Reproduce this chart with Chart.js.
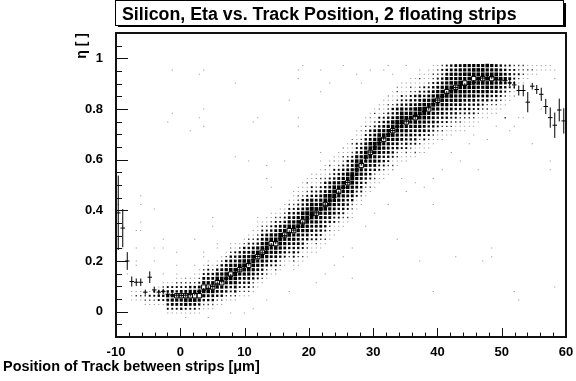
<!DOCTYPE html>
<html>
<head>
<meta charset="utf-8">
<script src="https://cdn.jsdelivr.net/npm/chart.js@4.4.1/dist/chart.umd.min.js"></script>
<style>
  html, body { margin: 0; padding: 0; background: #fff; }
  #wrap { width: 576px; height: 381px; position: relative; }
</style>
</head>
<body>
<div id="wrap"><canvas id="c"></canvas></div>
<script>
// Histogram binning: track position (x) versus eta (y)
const xAxisMin = -10, xAxisMax = 60, xBins = 100;
const yAxisMin = -0.1, yAxisMax = 1.1, yBins = 70;

const xTickValues = [-10, 0, 10, 20, 30, 40, 50, 60];
const xTickLabels = ['-10', '0', '10', '20', '30', '40', '50', '60'];
const yTickValues = [0, 0.2, 0.4, 0.6, 0.8, 1];
const yTickLabels = ['0', '0.2', '0.4', '0.6', '0.8', '1'];

const titleText = 'Silicon, Eta vs. Track Position, 2 floating strips';
const xTitleText = 'Position of Track between strips [\u03bcm]';
const yTitleText = '\u03b7 [ ]';

// Column profiles of the band (cell contents, bottom to top)
const C1 = '123456797654321', C2 = '122456788653211', C3 = '113456697643211';
const D1 = '1123445669765432111', D2 = '1123455668765432211', D3 = '1213445679775442111',
      D4 = '1122456678865532121', D5 = '1113355678876433111';

// First filled eta row of each position column
const bandStart = [
  0, 0, 0, 8, 8, 8, 7, 7, 7, 7,
  7, 5, 5, 5, 5, 5, 5, 5, 5, 6,
  6, 6, 7, 7, 8, 8, 8, 9, 9, 9,
  10, 11, 12, 13, 14, 14, 15, 16, 17, 15,
  16, 17, 18, 19, 19, 20, 21, 22, 23, 24,
  25, 26, 27, 29, 30, 32, 33, 34, 35, 36,
  37, 38, 39, 40, 40, 41, 41, 42, 42, 43,
  44, 45, 45, 46, 46, 47, 47, 47, 48, 48,
  49, 50, 50, 51, 51, 52, 53, 54, 55, 57,
  58, 59, 60, 60, 61, 61, 61, 61, 0, 0
];

// Cell contents per column, one digit per eta row starting at bandStart
const bandCells = [
  '', '', '', '111', '121', '121', '1221', '1231', '12331', '13431',
  '134421', '13456431', '13566531', '135694321', '145695321', '136795321', '135796421', '1357964211', '12469753211', '12467965321',
  '124579654321', '12457965421', '12456976421', '124569765421', '124568765421', '1234679765421', '1245678765431', '1234569765421', '12345678765421', C1,
  C2, C3, C1, C2, C3, C1, C2, C3, C1, D1,
  D2, D3, D4, D5, D1, D2, D3, D4, D5, D1,
  D2, D3, D4, D5, D1, D2, D3, D4, D5, D1,
  D2, D3, D4, D5, D1, D2, D3, D4, D5, D1,
  D2, '112344566976543221', '112234556787654332', '11234456679766543', '11223455678776654',
  '1123445667976655', '1122345667787665', '1112344567796766', '112344566787766', '112334566779776',
  '11234456678776', '1123456679776', '1122456778767', '112345679766', '112345668765',
  '11234567654', '1123456543', '112345433', '11233332', '112322',
  '11222', '1121', '121', '111', '11', '11', '11', '1', '', ''
];

// Isolated entries away from the band: [column, row, content]
const strayCells = [
  [0,22,1],[0,30,1],[1,20,1],[1,25,1],[2,14,1],[2,17,1],
  [4,16,1],[4,17,1],[4,20,1],[4,24,1],[5,24,1],[5,26,1],[5,30,1],[5,32,1],
  [8,17,1],[8,20,1],[8,29,1],[10,14,1],[10,20,1],[10,22,1],
  [13,14,1],[13,16,1],[13,19,1],[15,4,1],[15,13,1],[17,16,1],[17,22,1],
  [19,18,1],[19,19,1],[21,25,1],[21,27,1],[22,20,1],[22,21,1],[24,17,1],
  [25,16,1],[25,17,1],[25,19,1],[25,20,1],[25,21,1],[26,21,1],[28,5,1],
  [30,6,1],[31,26,1],[31,27,1],[33,8,1],[35,23,1],[35,24,1],[35,25,1],
  [12,61,1],[19,61,1],[18,60,1],[26,58,1],[12,51,1],[19,52,1],[18,50,1],
  [11,49,1],[16,47,1],[19,48,1],[30,49,1],[38,54,1],[26,41,1],[29,40,1],
  [40,61,1],[40,59,1],[45,56,1],[47,58,1],[53,60,1],[54,58,1],[59,61,1],
  [61,60,1],[67,61,1],[31,50,1],[40,50,1],[40,48,1],[37,40,1],[33,39,1],
  [33,36,1],[34,34,1],[45,40,1],[45,42,1],[61,38,1],[63,36,1],[68,34,1],
  [70,36,1],[41,62,1],[45,61,1],[50,62,1],[56,61,1],[60,62,1],[64,62,1],
  [42,30,1],[44,36,1],[46,38,1],[48,40,1],[50,43,1],[52,45,1],[54,47,1],
  [56,50,1],[58,52,1],[60,55,1],[62,57,1],
  [48,16,1],[50,18,1],[52,20,1],[55,25,1],[57,28,1],[60,30,1],[62,22,1],
  [64,33,1],[66,35,1],[70,30,1],[72,38,1],[74,42,1],[76,40,1],[78,44,1],
  [79,46,1],[80,38,1],[82,45,1],[84,48,1],[86,50,2],[87,47,1],[88,55,1],
  [89,50,1],[90,50,1],[88,48,1],[96,40,1],[96,38,1],[92,44,1],[94,52,1],
  [97,59,1],[67,17,1],[75,18,1],[81,17,1],[83,18,1],[83,20,1],[70,10,1],
  [88,10,1],[89,8,1],[97,11,1],[20,4,1],[25,5,1],[44,12,1],[46,14,1],
  [38,10,1],[52,13,1]
];

// Profile: mean eta and its error in each position column
const profileMean = [
  0.390, 0.330, 0.200, 0.119, 0.116, 0.116, 0.077, 0.136, 0.086, 0.077,
  0.080, 0.069, 0.066, 0.065, 0.064, 0.065, 0.067, 0.072, 0.080, 0.085,
  0.092, 0.099, 0.110, 0.120, 0.130, 0.140, 0.155, 0.165, 0.178, 0.190,
  0.205, 0.218, 0.232, 0.248, 0.262, 0.276, 0.290, 0.300, 0.312, 0.322,
  0.335, 0.350, 0.365, 0.380, 0.390, 0.405, 0.420, 0.437, 0.452, 0.468,
  0.490, 0.510, 0.535, 0.560, 0.585, 0.607, 0.630, 0.650, 0.668, 0.685,
  0.700, 0.715, 0.730, 0.742, 0.752, 0.762, 0.770, 0.778, 0.790, 0.805,
  0.820, 0.835, 0.850, 0.862, 0.874, 0.885, 0.893, 0.893, 0.897, 0.905,
  0.918, 0.922, 0.923, 0.927, 0.916, 0.914, 0.912, 0.903, 0.895, 0.873,
  0.873, 0.827, 0.890, 0.877, 0.858, 0.810, 0.766, 0.736, 0.796, 0.753
];
const profileErr = [
  0.147, 0.075, 0.035, 0.020, 0.015, 0.015, 0.010, 0.023, 0.012, 0.010,
  0.010, 0.008, 0.008, 0.008, 0.008, 0.008, 0.008, 0.008, 0.008, 0.008,
  0.009, 0.009, 0.009, 0.009, 0.009, 0.009, 0.009, 0.009, 0.009, 0.009,
  0.009, 0.009, 0.009, 0.009, 0.009, 0.009, 0.009, 0.009, 0.009, 0.009,
  0.009, 0.009, 0.009, 0.009, 0.009, 0.009, 0.009, 0.009, 0.009, 0.009,
  0.009, 0.009, 0.009, 0.009, 0.009, 0.009, 0.009, 0.009, 0.009, 0.009,
  0.009, 0.009, 0.009, 0.009, 0.009, 0.009, 0.009, 0.009, 0.009, 0.009,
  0.009, 0.009, 0.009, 0.009, 0.009, 0.009, 0.009, 0.009, 0.009, 0.009,
  0.009, 0.009, 0.009, 0.009, 0.009, 0.009, 0.009, 0.012, 0.015, 0.020,
  0.023, 0.040, 0.013, 0.018, 0.026, 0.030, 0.040, 0.050, 0.045, 0.050
];

const FONT = '"Liberation Sans", Arial, Helvetica, sans-serif';
const xw = (xAxisMax - xAxisMin) / xBins;
const yw = (yAxisMax - yAxisMin) / yBins;
const zMax = 9;

// Histogram cells as points at bin centres
const cells = [];
bandCells.forEach((s, col) => {
  for (let k = 0; k < s.length; k++) {
    const c = +s[k];
    if (c > 0) cells.push({ x: xAxisMin + (col + 0.5) * xw, y: yAxisMin + (bandStart[col] + k + 0.5) * yw, c });
  }
});
strayCells.forEach(([col, row, c]) => {
  cells.push({ x: xAxisMin + (col + 0.5) * xw, y: yAxisMin + (row + 0.5) * yw, c });
});

// Profile error bars (vertical) and bin-width bars (horizontal), separated by gaps
const errV = [], errH = [];
profileMean.forEach((m, i) => {
  const xc = xAxisMin + (i + 0.5) * xw;
  errV.push({ x: xc, y: m - profileErr[i] }, { x: xc, y: m + profileErr[i] }, { x: xc, y: null });
  errH.push({ x: xc - xw / 2, y: m }, { x: xc + xw / 2, y: m }, { x: xc, y: null });
});

// Box side grows with the content of the cell
function boxRadius(ctx) {
  const raw = ctx.raw; if (!raw) return 0;
  const sx = ctx.chart.scales.x, sy = ctx.chart.scales.y;
  const cw = Math.abs(sx.getPixelForValue(xAxisMin + xw) - sx.getPixelForValue(xAxisMin));
  const ch = Math.abs(sy.getPixelForValue(yAxisMin + yw) - sy.getPixelForValue(yAxisMin));
  const side = Math.max(Math.min(cw, ch) * Math.pow(raw.c / zMax, 0.75), 1);
  return side / Math.SQRT2;
}
function boxFill(ctx) {
  const raw = ctx.raw; if (!raw) return '#000';
  if (raw.c >= zMax) return 'rgba(255,255,255,0)';
  if (raw.c === 1) return 'rgba(0,0,0,0.45)';
  if (raw.c === 2) return 'rgba(0,0,0,0.8)';
  return '#000';
}

const framePlugin = {
  id: 'frame',
  beforeDraw(chart) {
    const c = chart.ctx;
    c.save(); c.fillStyle = '#fff'; c.fillRect(0, 0, chart.width, chart.height); c.restore();
  },
  afterDatasetsDraw(chart) {
    const c = chart.ctx, a = chart.chartArea, sx = chart.scales.x, sy = chart.scales.y;
    c.save();
    c.strokeStyle = '#111';
    c.lineWidth = 1;
    c.beginPath();
    // y ticks: major every 0.2, minor every 0.05
    for (let v = -0.05; v < yAxisMax - 1e-9; v += 0.05) {
      const p = Math.round(sy.getPixelForValue(v)) + 0.5;
      const major = yTickValues.some(t => Math.abs(t - v) < 1e-6);
      c.moveTo(a.left, p); c.lineTo(a.left + (major ? 12 : 6), p);
    }
    // x ticks: major every 10, minor every 2
    for (let v = xAxisMin + 2; v < xAxisMax - 1e-9; v += 2) {
      const p = Math.round(sx.getPixelForValue(v)) + 0.5;
      const major = xTickValues.some(t => Math.abs(t - v) < 1e-6);
      c.moveTo(p, a.bottom); c.lineTo(p, a.bottom - (major ? 9 : 4.5));
    }
    c.stroke();
    c.lineWidth = 2;
    c.strokeRect(a.left, a.top, a.right - a.left, a.bottom - a.top);
    c.restore();
  },
  afterDraw(chart) {
    const c = chart.ctx;
    c.save();
    // title box with drop shadow
    c.fillStyle = '#000';
    c.fillRect(118, 3, 448, 24);
    c.fillStyle = '#fff';
    c.fillRect(115.5, 0.5, 448, 25);
    c.strokeStyle = '#000'; c.lineWidth = 1;
    c.strokeRect(115.5, 0.5, 448, 25);
    let fs = 18;
    c.font = `bold ${fs}px ${FONT}`;
    fs = fs * 395 / c.measureText(titleText).width;
    c.font = `bold ${fs.toFixed(2)}px ${FONT}`;
    c.fillStyle = '#000';
    c.textAlign = 'left'; c.textBaseline = 'alphabetic';
    c.fillText(titleText, 122, 19.5);

    // x axis title
    let fx = 14;
    c.font = `bold ${fx}px ${FONT}`;
    fx = fx * 257 / c.measureText(xTitleText).width;
    c.font = `bold ${fx.toFixed(2)}px ${FONT}`;
    c.fillText(xTitleText, 3, 371);

    // y axis title, aligned to the top of the axis
    c.font = `bold 14px ${FONT}`;
    c.translate(86, 33);
    c.rotate(-Math.PI / 2);
    c.textAlign = 'right';
    c.fillText(yTitleText, 0, 0);
    c.restore();
  }
};

new Chart(document.getElementById('c'), {
  type: 'scatter',
  data: {
    datasets: [
      {
        data: cells,
        pointStyle: 'rect',
        rotation: 0,
        pointRadius: boxRadius,
        pointHoverRadius: boxRadius,
        pointBackgroundColor: boxFill,
        pointBorderColor: '#000',
        pointBorderWidth: ctx => (ctx.raw && ctx.raw.c >= zMax ? 1 : 0),
        showLine: false
      },
      {
        data: errV, showLine: true, spanGaps: false,
        borderColor: '#000', borderWidth: 1, pointRadius: 0, pointHoverRadius: 0
      },
      {
        data: errH, showLine: true, spanGaps: false,
        borderColor: '#000', borderWidth: 1, pointRadius: 0, pointHoverRadius: 0
      }
    ]
  },
  options: {
    responsive: true,
    maintainAspectRatio: false,
    animation: false,
    events: [],
    layout: { padding: { top: 33, right: 10, left: 0, bottom: 0 } },
    plugins: { legend: { display: false }, tooltip: { enabled: false } },
    scales: {
      x: {
        type: 'linear', min: xAxisMin, max: xAxisMax,
        afterBuildTicks: s => { s.ticks = xTickValues.map(v => ({ value: v })); },
        afterFit: s => { s.height = 44; s.paddingLeft = 0; s.paddingRight = 0; },
        grid: { display: false }, border: { display: false },
        ticks: {
          autoSkip: false, maxRotation: 0, padding: 0, color: '#000',
          font: { family: FONT, size: 13, weight: 'bold' },
          callback: (v, i) => xTickLabels[i]
        }
      },
      y: {
        type: 'linear', min: yAxisMin, max: yAxisMax,
        afterBuildTicks: s => { s.ticks = yTickValues.map(v => ({ value: v })); },
        afterFit: s => { s.width = 116; s.paddingTop = 0; s.paddingBottom = 0; },
        grid: { display: false }, border: { display: false },
        ticks: {
          autoSkip: false, padding: 5, color: '#000',
          font: { family: FONT, size: 13, weight: 'bold' },
          callback: (v, i) => yTickLabels[i]
        }
      }
    }
  },
  plugins: [framePlugin]
});
</script>
</body>
</html>
